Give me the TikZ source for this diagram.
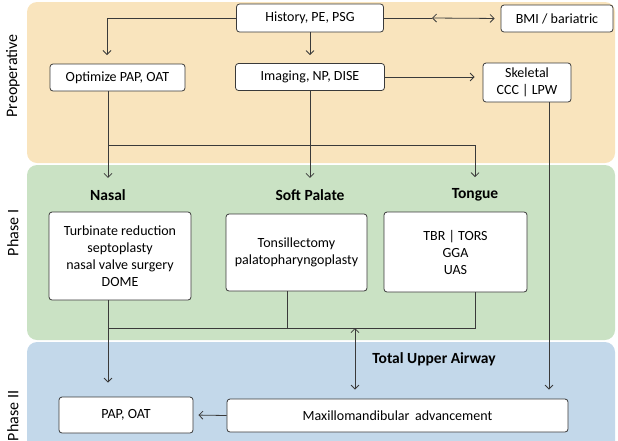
\documentclass[tikz,border=0pt]{standalone}
\usepackage{fontspec}
\setmainfont{Carlito}
\usetikzlibrary{arrows.meta}
\definecolor{preop}{HTML}{F9E4BD}
\definecolor{phaseone}{HTML}{CAE2C4}
\definecolor{phasetwo}{HTML}{C3D8EA}
\definecolor{linegray}{HTML}{3A3A3A}
\tikzset{
  box/.style={draw=linegray, fill=white, line width=0.8pt, rounded corners=3pt,
    align=center, inner sep=2pt, font=\fontsize{14}{17}\selectfont},
  head/.style={font=\bfseries\fontsize{15.5}{18}\selectfont},
  phaselbl/.style={rotate=90, font=\fontsize{16}{19}\selectfont},
  conn/.style={draw=linegray, line width=0.8pt},
  arr/.style={conn, -{Straight Barb[length=4pt,width=8pt]}},
  dblarr/.style={conn, {Straight Barb[length=4pt,width=8pt]}-{Straight Barb[length=4pt,width=8pt]}},
}

\begin{document}
\begin{tikzpicture}[x=1pt, y=-1pt]
\clip (0,0) rectangle (618,440);
% bands
\fill[preop, rounded corners=10pt] (27,2) rectangle (615,163);
\fill[phaseone, rounded corners=10pt] (27,165) rectangle (615,340);
\fill[phasetwo, rounded corners=10pt] (27,342) rectangle (615,460);
\node[phaselbl] (lblpre) at (13,76) {Preoperative};
\node[phaselbl] (lblone) at (13,233) {Phase I};
\node[phaselbl] (lbltwo) at (13,416) {Phase II};

% preoperative
\node[box, minimum width=147pt, minimum height=28pt] (hist) at (310,18) {History, PE, PSG};
\node[box, minimum width=112pt, minimum height=27pt] (bmi) at (557,18.5) {BMI / bariatric};
\node[box, minimum width=135pt, minimum height=27pt] (optim) at (117.5,77.5) {Optimize PAP, OAT};
\node[box, minimum width=149pt, minimum height=27pt] (imag) at (310,77) {Imaging, NP, DISE};
\node[box, minimum width=88pt, minimum height=39pt] (skel) at (527,82.5) {Skeletal\\CCC | LPW};

% phase I
\node[head] (nasal) at (108,195) {Nasal};
\node[head] (soft) at (310,195) {Soft Palate};
\node[head] (tongue) at (475,195) {Tongue};
\node[box, minimum width=142pt, minimum height=88pt] (nasalbox) at (120,256)
  {Turbinate reduction\\septoplasty\\nasal valve surgery\\DOME};
\node[box, minimum width=141pt, minimum height=77pt] (softbox) at (296.5,252.5)
  {Tonsillectomy\\palatopharyngoplasty};
\node[box, minimum width=143pt, minimum height=80pt] (tonguebox) at (455.5,252)
  {TBR | TORS\\GGA\\UAS};

% phase II
\node[head] (tua) at (434,359) {Total Upper Airway};
\node[box, minimum width=134pt, minimum height=36pt] (pap) at (126,415) {PAP, OAT};
\node[box, minimum width=341pt, minimum height=33pt] (mma) at (397.5,415.5) {Maxillomandibular\, advancement};

% connectors
\coordinate (optin) at (107,55);
\coordinate (bmiin) at (432,18);
\coordinate (split) at (108,145);
\coordinate (skelout) at (549,102);
\coordinate (join) at (108,328);
\coordinate (jointip) at (355,328);

\draw[arr] (hist.west) -| (optin);
\draw[arr, shorten >=8pt] (hist) -- (imag);
\draw[conn] (hist.east) -- (bmiin);
\draw[dblarr, shorten >=6pt] (bmiin) -- (bmi.west);
\draw[arr, shorten >=8pt] (imag.east) -- (imag.east -| skel.west);
\draw[arr, shorten >=8pt] (optim.south -| nasal) -- (nasal.north);
\draw[arr, shorten >=8pt] (imag) -- (soft.north);
\draw[arr, shorten >=8pt] (split) -| (tongue.north);
\draw[arr, shorten >=9pt] (skelout) -- (skelout |- mma.north);
\draw[arr, shorten >=14pt] (nasalbox.south -| join) -- (join |- pap.north);
\draw[conn] (join) -| (softbox.south -| 287,0);
\draw[conn] (join) -| (tonguebox.south -| tongue);
\draw[dblarr, shorten >=9pt] (jointip) -- (jointip |- mma.north);
\draw[arr, shorten >=5pt] (mma.west) -- (pap.east);
\end{tikzpicture}
\end{document}
